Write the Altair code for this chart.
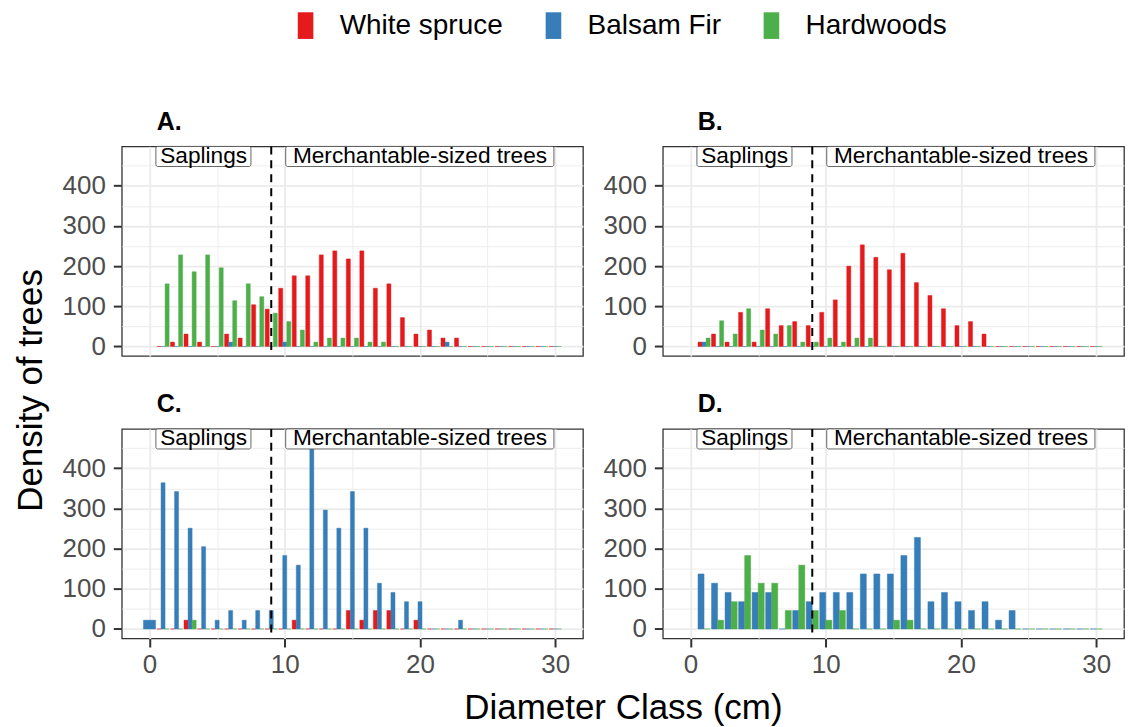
import altair as alt
import pandas as pd

FONT = "Liberation Sans"
SPECIES = ["White spruce", "Balsam Fir", "Hardwoods"]
COLORS = ["#E41A1C", "#377EB8", "#4DAF4A"]
BINS = list(range(1, 31))

# ---- densities per diameter class (bins 1..30) ----
A_white_spruce = [0, 11, 31, 11, 0, 31, 21, 104, 93, 145, 176, 176, 228, 238, 218, 238, 145, 156, 72, 31,
                  41, 21, 21, 0, 0, 0, 0, 0, 0, 0]
A_balsam_fir = [0, 0, 0, 0, 0, 11, 0, 0, 0, 11, 0, 0, 0, 0, 0, 0, 0, 0, 0, 0,
                0, 11, 0, 0, 0, 0, 0, 0, 0, 0]
A_hardwoods = [156, 228, 186, 228, 196, 114, 156, 124, 83, 62, 41, 11, 21, 21, 21, 11, 11, 0, 0, 0,
               0, 0, 0, 0, 0, 0, 0, 0, 0, 0]

B_white_spruce = [11, 31, 11, 85, 11, 94, 52, 62, 52, 85, 116, 200, 253, 222, 191, 232, 159, 127, 94, 52,
                  62, 31, 0, 0, 0, 0, 0, 0, 0, 0]
B_balsam_fir = [11, 0, 0, 0, 0, 0, 0, 0, 0, 0, 0, 0, 0, 0, 0, 0, 0, 0, 0, 0,
                0, 0, 0, 0, 0, 0, 0, 0, 0, 0]
B_hardwoods = [21, 64, 31, 94, 41, 31, 52, 11, 11, 21, 11, 21, 21, 0, 0, 0, 0, 0, 0, 0,
               0, 0, 0, 0, 0, 0, 0, 0, 0, 0]

C_white_spruce = [0, 0, 22, 0, 0, 0, 0, 0, 0, 0, 22, 0, 0, 0, 46, 22, 46, 46, 0, 22,
                  0, 0, 0, 0, 0, 0, 0, 0, 0, 0]
C_balsam_fir = [364, 342, 251, 205, 22, 46, 22, 46, 46, 183, 159, 450, 296, 251, 342, 251, 114, 91, 68, 68,
                0, 0, 22, 0, 0, 0, 0, 0, 0, 0]
C_hardwoods = [0, 0, 22, 0, 0, 0, 0, 0, 0, 0, 0, 0, 0, 0, 0, 0, 0, 0, 0, 0,
               0, 0, 0, 0, 0, 0, 0, 0, 0, 0]
C_bin0_balsam_fir = 22

D_balsam_fir = [137, 114, 91, 68, 91, 91, 0, 46, 68, 91, 91, 91, 137, 137, 137, 183, 228, 68, 91, 68,
                46, 68, 22, 46, 0, 0, 0, 0, 0, 0]
D_hardwoods = [0, 22, 68, 183, 114, 114, 46, 159, 46, 22, 46, 0, 0, 0, 22, 22, 0, 0, 0, 0,
               0, 0, 0, 0, 0, 0, 0, 0, 0, 0]

# annotations
LABELS = ["Saplings", "Merchantable-sized trees"]
LABEL_X = [4, 20]
LABEL_Y = [475, 475]
BOX_X1 = [0.47, 10.07]
BOX_X2 = [7.5, 29.9]
BOX_Y1 = [448, 448]
BOX_Y2 = [498, 498]
CUT_X = [9]

X_GRID = [0, 5, 10, 15, 20, 25, 30]
Y_GRID = [0, 50, 100, 150, 200, 250, 300, 350, 400, 450]
X_DOMAIN = [-2.05, 32.05]
Y_DOMAIN = [-23.7, 498]

# ---- long table ----
series = {
    "A.": {"White spruce": A_white_spruce, "Balsam Fir": A_balsam_fir, "Hardwoods": A_hardwoods},
    "B.": {"White spruce": B_white_spruce, "Balsam Fir": B_balsam_fir, "Hardwoods": B_hardwoods},
    "C.": {"White spruce": C_white_spruce, "Balsam Fir": C_balsam_fir, "Hardwoods": C_hardwoods},
    "D.": {"Balsam Fir": D_balsam_fir, "Hardwoods": D_hardwoods},
}
rows = []
for p, d in series.items():
    for sp, vals in d.items():
        for b, v in zip(BINS, vals):
            rows.append({"panel": p, "species": sp, "bin": b, "value": v})
rows.append({"panel": "C.", "species": "Balsam Fir", "bin": 0, "value": C_bin0_balsam_fir})
df = pd.DataFrame(rows)

ann = pd.DataFrame({"label": LABELS, "x": LABEL_X, "y": LABEL_Y,
                    "bx1": BOX_X1, "bx2": BOX_X2, "by1": BOX_Y1, "by2": BOX_Y2})
cut = pd.DataFrame({"x": CUT_X})

GRID = "#EBEBEB"
xscale = alt.Scale(domain=X_DOMAIN, nice=False, zero=False)
yscale = alt.Scale(domain=Y_DOMAIN, nice=False, zero=False)
cscale = alt.Scale(domain=SPECIES, range=COLORS)


def cond(test, a, b):
    return {"condition": {"test": test, "value": a}, "value": b}


def make_panel(p, bottom_row, y_title, x_title):
    xkw = dict(values=X_GRID, grid=True, domain=False, gridColor=GRID,
               gridWidth=cond("datum.value % 10 === 0", 1.8, 0.9),
               labels=bottom_row, ticks=bottom_row)
    if bottom_row:
        xkw.update(labelExpr="datum.value % 10 === 0 ? datum.label : ''",
                   tickOpacity=cond("datum.value % 10 === 0", 1, 0),
                   tickSize=8.5, tickWidth=2, tickColor="#333333",
                   labelFontSize=26, labelColor="#4D4D4D", labelFont=FONT,
                   labelPadding=5)
    if x_title:
        xkw.update(title="Diameter Class (cm)", titleX=502, titleFontSize=35,
                   titleFont=FONT, titleFontWeight="normal", titleColor="black",
                   titlePadding=13)
    else:
        xkw.update(title=None)
    ykw = dict(values=Y_GRID, grid=True, domain=False, gridColor=GRID,
               gridWidth=cond("datum.value % 100 === 0", 1.8, 0.9),
               labelExpr="datum.value % 100 === 0 ? datum.label : ''",
               tickOpacity=cond("datum.value % 100 === 0", 1, 0),
               tickSize=8.5, tickWidth=2, tickColor="#333333",
               labelFontSize=26, labelColor="#4D4D4D", labelFont=FONT,
               labelPadding=8)
    if y_title:
        ykw.update(title="Density of trees", titleY=244, titleFontSize=35,
                   titleFont=FONT, titleFontWeight="normal", titleColor="black",
                   titlePadding=14)
    else:
        ykw.update(title=None)
    xaxis = alt.Axis(**xkw)
    yaxis = alt.Axis(**ykw)

    bars = (
        alt.Chart(df)
        .transform_filter(alt.datum.panel == p)
        .transform_calculate(order="indexof(['White spruce','Balsam Fir','Hardwoods'], datum.species)")
        .transform_window(slot="row_number()", groupby=["bin"], sort=[alt.SortField("order")])
        .transform_joinaggregate(nslot="count()", groupby=["bin"])
        .transform_calculate(
            x1="datum.bin - 0.45 + (datum.slot - 1) * 0.9 / datum.nslot",
            x2="datum.bin - 0.45 + datum.slot * 0.9 / datum.nslot",
            base="0",
        )
        .mark_bar(strokeWidth=0.8, strokeOpacity=0.55)
        .encode(
            x=alt.X("x1:Q", scale=xscale, axis=xaxis),
            x2="x2:Q",
            y=alt.Y("value:Q", scale=yscale, axis=yaxis),
            y2="base:Q",
            color=alt.Color("species:N", scale=cscale,
                            legend=alt.Legend(title=None,
                                              symbolType="M-0.585,-1H0.585V1H-0.585Z",
                                              symbolSize=713,
                                              symbolStrokeWidth=0, labelLimit=400)),
            stroke=alt.Stroke("species:N", scale=cscale, legend=None),
        )
    )
    rule = (
        alt.Chart(cut)
        .mark_rule(color="black", strokeWidth=2, strokeDash=[8, 6])
        .encode(x=alt.X("x:Q", scale=xscale, axis=xaxis))
    )
    boxes = (
        alt.Chart(ann)
        .mark_rect(fill="white", stroke="#555555", strokeWidth=0.9, cornerRadius=2)
        .encode(
            x=alt.X("bx1:Q", scale=xscale, axis=xaxis), x2="bx2:Q",
            y=alt.Y("by1:Q", scale=yscale, axis=yaxis), y2="by2:Q",
        )
    )
    texts = (
        alt.Chart(ann)
        .mark_text(font=FONT, fontSize=22.7, color="black", baseline="middle")
        .encode(
            x=alt.X("x:Q", scale=xscale, axis=xaxis),
            y=alt.Y("y:Q", scale=yscale, axis=yaxis),
            text="label:N",
        )
    )
    return alt.layer(bars, rule, boxes, texts).properties(
        width=462, height=210,
        title=alt.TitleParams(p, anchor="start", frame="group", dx=35, fontSize=25,
                              fontWeight="bold", font=FONT, color="black", offset=10),
    )


pA = make_panel("A.", False, True, False)
pB = make_panel("B.", False, False, False)
pC = make_panel("C.", True, False, True)
pD = make_panel("D.", True, False, False)

chart = (
    alt.concat(pA, pB, pC, pD, columns=2, spacing={"row": 73, "column": 80}, bounds="flush")
    .properties(padding={"left": 4, "top": 3, "right": 0, "bottom": 0})
    .configure_view(stroke="#333333", strokeWidth=1.3)
    .configure_legend(
        orient="none", legendX=170.1, legendY=-135, direction="horizontal",
        labelFontSize=28, labelFont=FONT, labelColor="black",
        labelOffset=20.15, columnPadding=36.35, padding=0,
    )
)

chart.save("out.html", embed_options={"renderer": "svg", "actions": False})
